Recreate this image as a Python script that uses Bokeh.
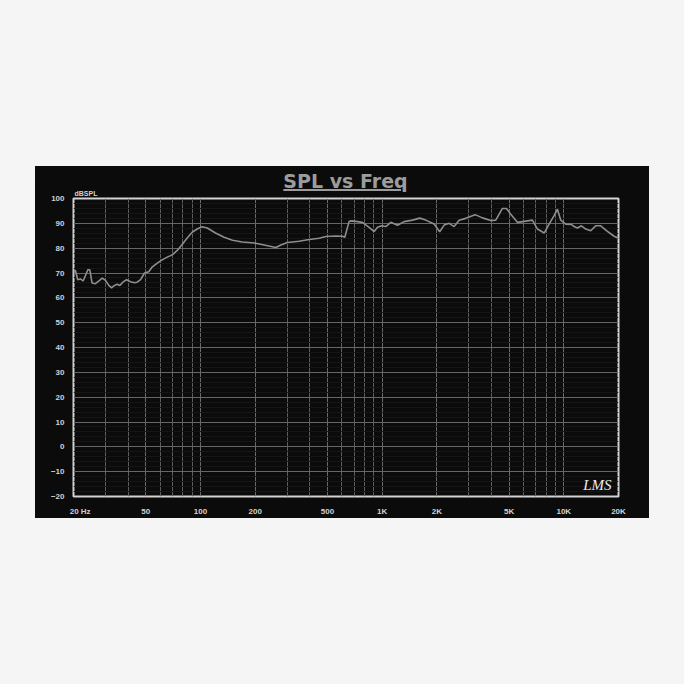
from bokeh.plotting import figure
from bokeh.models import Range1d, FixedTicker, Label, Div
from bokeh.layouts import column
from bokeh.embed import file_html
from bokeh.resources import INLINE

# ---- data ----
freq = [20, 20.5, 21.1, 21.8, 22.6, 24.0, 24.6, 25.3, 26.4, 27.6, 28.8, 30.0, 31.3, 32.4,
        33.6, 34.8, 36.0, 37.5, 39.2, 41.2, 43.3, 44.8, 46.8, 49.2, 51.9, 54.2, 57.8, 61.5,
        65.6, 69.9, 74.5, 79.3, 84.5, 90.0, 95.9, 102, 109, 121, 135, 150, 170, 198, 224,
        260, 277, 301, 349, 397, 450, 490, 556, 605, 623, 658, 681, 716, 779, 848, 904, 943,
        995, 1047, 1116, 1215, 1321, 1468, 1611, 1739, 1932, 2074, 2194, 2337, 2490, 2653,
        2884, 3249, 3565, 3962, 4220, 4593, 4831, 5104, 5555, 6047, 6717, 7159, 7796, 8299,
        8844, 9222, 9617, 10245, 11050, 11390, 11880, 12500, 13200, 14060, 14980, 15960,
        17380, 18920, 20000]
spl = [70.8, 71.0, 67.3, 67.6, 66.8, 71.3, 71.3, 66.0, 65.7, 66.8, 67.9, 67.0, 65.0, 64.0,
       65.0, 65.5, 65.0, 66.4, 67.3, 66.5, 66.1, 66.3, 67.3, 70.0, 70.5, 72.4, 74.0, 75.3,
       76.4, 77.3, 79.1, 81.5, 84.1, 86.4, 87.7, 88.6, 88.1, 86.1, 84.4, 83.2, 82.5, 82.1, 81.3,
       80.3, 81.3, 82.3, 82.8, 83.5, 84.0, 84.7, 84.9, 84.8, 84.4, 90.8, 91.0, 90.8, 90.4, 88.4,
       86.7, 88.4, 89.0, 88.7, 90.4, 89.2, 90.7, 91.3, 92.1, 91.3, 89.7, 86.6, 89.3, 90.0, 88.7,
       91.2, 92.0, 93.5, 92.2, 91.1, 91.3, 96.0, 96.0, 93.7, 90.4, 90.8, 91.3, 87.7, 86.1, 89.7,
       93.1, 95.7, 91.3, 89.7, 89.5, 88.7, 88.1, 89.0, 87.7, 87.0, 89.0, 89.0, 86.8, 84.8, 84.0]

x_ticks = [20, 50, 100, 200, 500, 1000, 2000, 5000, 10000, 20000]
x_tick_labels = ["\u00a0\u00a0\u00a0\u00a0\u00a0\u00a020 Hz", "50", "100", "200", "500",
                 "1K", "2K", "5K", "10K", "20K"]
x_minor = [30, 40, 60, 70, 80, 90, 300, 400, 600, 700, 800, 900,
           3000, 4000, 6000, 7000, 8000, 9000]
y_ticks = [-20, -10, 0, 10, 20, 30, 40, 50, 60, 70, 80, 90, 100]
y_minor = [v for v in range(-18, 100, 2) if v % 10 != 0]

title_text = "SPL vs Freq"
y_unit = "dBSPL"
logo_text = "LMS"

PANEL = "#0b0b0b"
LABEL_C = "#d2d2d2"

p = figure(width=614, height=332, x_axis_type="log",
           x_range=Range1d(20, 20000), y_range=Range1d(-20, 100),
           output_backend="svg", toolbar_location=None,
           background_fill_color=PANEL, border_fill_color=PANEL,
           min_border_left=38, min_border_right=31, min_border_top=10, min_border_bottom=18)

# small unit caption above the plot frame, left aligned
p.title.text = y_unit
p.title.align = "left"
p.title.text_font = "Liberation Sans"
p.title.text_font_style = "bold"
p.title.text_font_size = "7px"
p.title.text_color = LABEL_C
p.title.standoff = 3
p.title.offset = 1

p.outline_line_color = "#d4d4d4"
p.outline_line_width = 2

p.xaxis.ticker = FixedTicker(ticks=x_ticks, minor_ticks=x_minor)
p.xaxis.major_label_overrides = {t: l for t, l in zip(x_ticks, x_tick_labels)}
p.yaxis.ticker = FixedTicker(ticks=y_ticks, minor_ticks=y_minor)

for ax in (p.xaxis[0], p.yaxis[0]):
    ax.axis_line_color = None
    ax.major_tick_line_color = None
    ax.minor_tick_line_color = None
    ax.major_label_text_color = LABEL_C
    ax.major_label_text_font = "Liberation Sans"
    ax.major_label_text_font_style = "bold"
    ax.major_label_text_font_size = "8px"
p.xaxis.major_label_standoff = 4
p.yaxis.major_label_standoff = 3

p.xgrid.grid_line_color = "#6a6a6a"
p.xgrid.minor_grid_line_color = "#5e5e5e"
p.ygrid.grid_line_color = "#666666"
p.ygrid.minor_grid_line_color = "#161616"

p.line(freq, spl, line_color="#8e8e8e", line_width=1.6)

p.add_layout(Label(x=15300, y=-18.6, text=logo_text,
                   text_align="center", text_baseline="bottom",
                   text_font="Liberation Serif", text_font_style="italic",
                   text_font_size="15px", text_color="#eeeeee"))

title_div = Div(
    text=('<div style="width:545px;margin-left:38px;padding-top:6px;text-align:center;'
          'font-family:\'DejaVu Sans\';font-weight:bold;font-size:19px;line-height:19px;'
          'color:#9c9c9c;text-decoration:underline;text-decoration-thickness:2px;'
          'text-underline-offset:1px;">' + title_text + '</div>'),
    width=614, height=20,
    styles={"background-color": PANEL, "margin": "0", "padding": "0",
            "overflow": "visible", "z-index": "5", "position": "relative"})

inner = column(title_div, p, spacing=0, margin=(166, 0, 0, 35),
               styles={"background-color": PANEL})
outer = column(inner, width=684, height=684, styles={"background-color": "#f5f5f5"})

open("out.html", "w").write(file_html(outer, INLINE))
